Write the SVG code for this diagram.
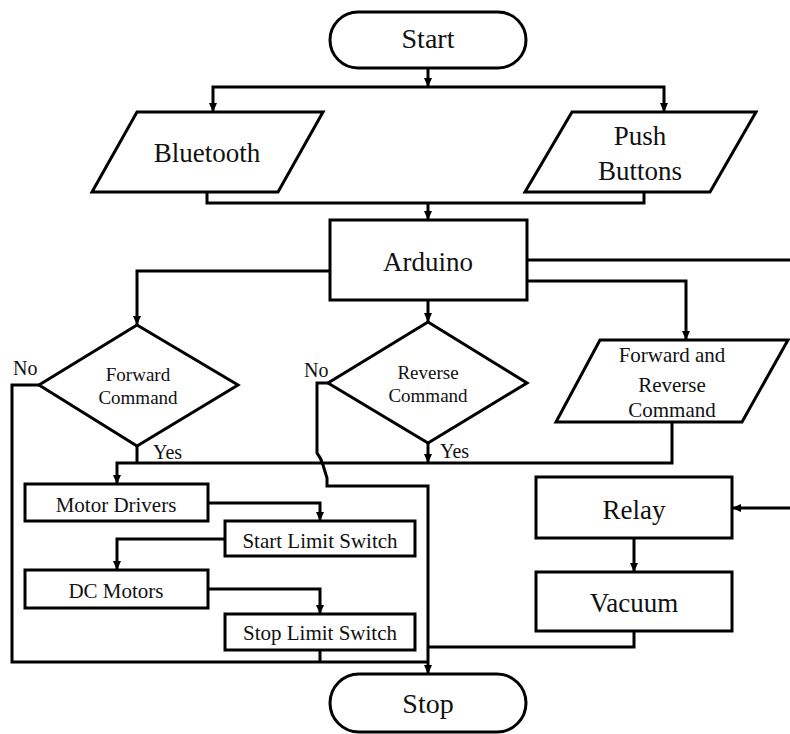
<svg xmlns="http://www.w3.org/2000/svg" width="790" height="734" viewBox="0 0 790 734">
<defs>
<marker id="arr" markerUnits="userSpaceOnUse" markerWidth="9" markerHeight="8" refX="9" refY="4" orient="auto">
<path d="M0,0 L9,4 L0,8 z" fill="#000"/>
</marker>
<style>
.s{fill:#fff;stroke:#000;stroke-width:3}
.c{fill:none;stroke:#000;stroke-width:3}
.a{marker-end:url(#arr)}
text{font-family:"Liberation Serif","Times New Roman",serif;fill:#111;text-anchor:middle}
.big{font-size:27px}
.mid{font-size:21px}
.sm{font-size:19px}
.lb{font-size:20px;text-anchor:start}
</style>
</defs>
<rect width="790" height="734" fill="#fff"/>
<g id="connectors">
<path class="c a" d="M428,68 V87"/>
<path class="c a" d="M428,87 H213 V112"/>
<path class="c a" d="M428,87 H664 V112"/>
<path class="c" d="M207,192 V203 H644 V192"/>
<path class="c a" d="M428,203 V220"/>
<path class="c a" d="M330,271 H137 V325"/>
<path class="c a" d="M428,300 V322"/>
<path class="c a" d="M527,281 H686 V340"/>
<path class="c" d="M527,260 H790"/>
<path class="c" d="M137,446 V463"/>
<path class="c a" d="M672,422 V463 H117 V484"/>
<path class="c a" d="M428,443 V463"/>
<path class="c" d="M39,385 H12 V662 H428"/>
<path class="c a" d="M328,383 H317 V453 Q321,458 323,465 L327,478 V486 H428 V674"/>
<path class="c" d="M634,631 V647 H428"/>
<path class="c" d="M320,650 V662"/>
<path class="c a" d="M208,503 H320 V521"/>
<path class="c a" d="M225,539 H117 V570"/>
<path class="c a" d="M208,589 H320 V614"/>
<path class="c a" d="M634,538 V572"/>
<path class="c a" d="M790,508 H732"/>
</g>
<g id="start">
<rect class="s" x="330" y="12" width="196" height="56" rx="28" ry="28"/>
<text class="big" x="428" y="48" style="font-size:28px">Start</text>
</g>
<g id="bluetooth">
<polygon class="s" points="137,112 323,112 278,192 92,192"/>
<text class="big" x="207" y="162">Bluetooth</text>
</g>
<g id="push-buttons">
<polygon class="s" points="572,112 756,112 710,192 525,192"/>
<text class="big" x="640" y="145">Push</text>
<text class="big" x="640" y="180">Buttons</text>
</g>
<g id="arduino">
<rect class="s" x="330" y="220" width="197" height="80"/>
<text class="big" x="428" y="271">Arduino</text>
</g>
<g id="forward-command">
<polygon class="s" points="137,325 238,385 137,446 39,385"/>
<text class="sm" x="138" y="381">Forward</text>
<text class="sm" x="138" y="404">Command</text>
</g>
<g id="reverse-command">
<polygon class="s" points="428,322 527,383 428,443 328,383"/>
<text class="sm" x="428" y="379">Reverse</text>
<text class="sm" x="428" y="402">Command</text>
</g>
<g id="forward-reverse">
<polygon class="s" points="600,340 788,340 742,422 556,422"/>
<text class="mid" x="672" y="362">Forward and</text>
<text class="mid" x="672" y="392">Reverse</text>
<text class="mid" x="672" y="417">Command</text>
</g>
<g id="labels">
<text class="lb" x="13" y="375">No</text>
<text class="lb" x="304" y="377">No</text>
<text class="lb" x="153" y="459">Yes</text>
<text class="lb" x="440" y="458">Yes</text>
</g>
<g id="motor-drivers">
<rect class="s" x="25" y="484" width="183" height="37"/>
<text class="mid" x="116" y="512">Motor Drivers</text>
</g>
<g id="start-limit-switch">
<rect class="s" x="225" y="521" width="190" height="35"/>
<text class="mid" x="320" y="548">Start Limit Switch</text>
</g>
<g id="dc-motors">
<rect class="s" x="25" y="570" width="183" height="38"/>
<text class="mid" x="116" y="598">DC Motors</text>
</g>
<g id="stop-limit-switch">
<rect class="s" x="225" y="614" width="190" height="36"/>
<text class="mid" x="320" y="640">Stop Limit Switch</text>
</g>
<g id="relay">
<rect class="s" x="536" y="477" width="196" height="61"/>
<text class="big" x="634" y="519">Relay</text>
</g>
<g id="vacuum">
<rect class="s" x="536" y="572" width="196" height="59"/>
<text class="big" x="634" y="612">Vacuum</text>
</g>
<g id="stop">
<rect class="s" x="330" y="674" width="196" height="58" rx="29" ry="29"/>
<text class="big" x="428" y="713" style="font-size:28px">Stop</text>
</g>
</svg>
